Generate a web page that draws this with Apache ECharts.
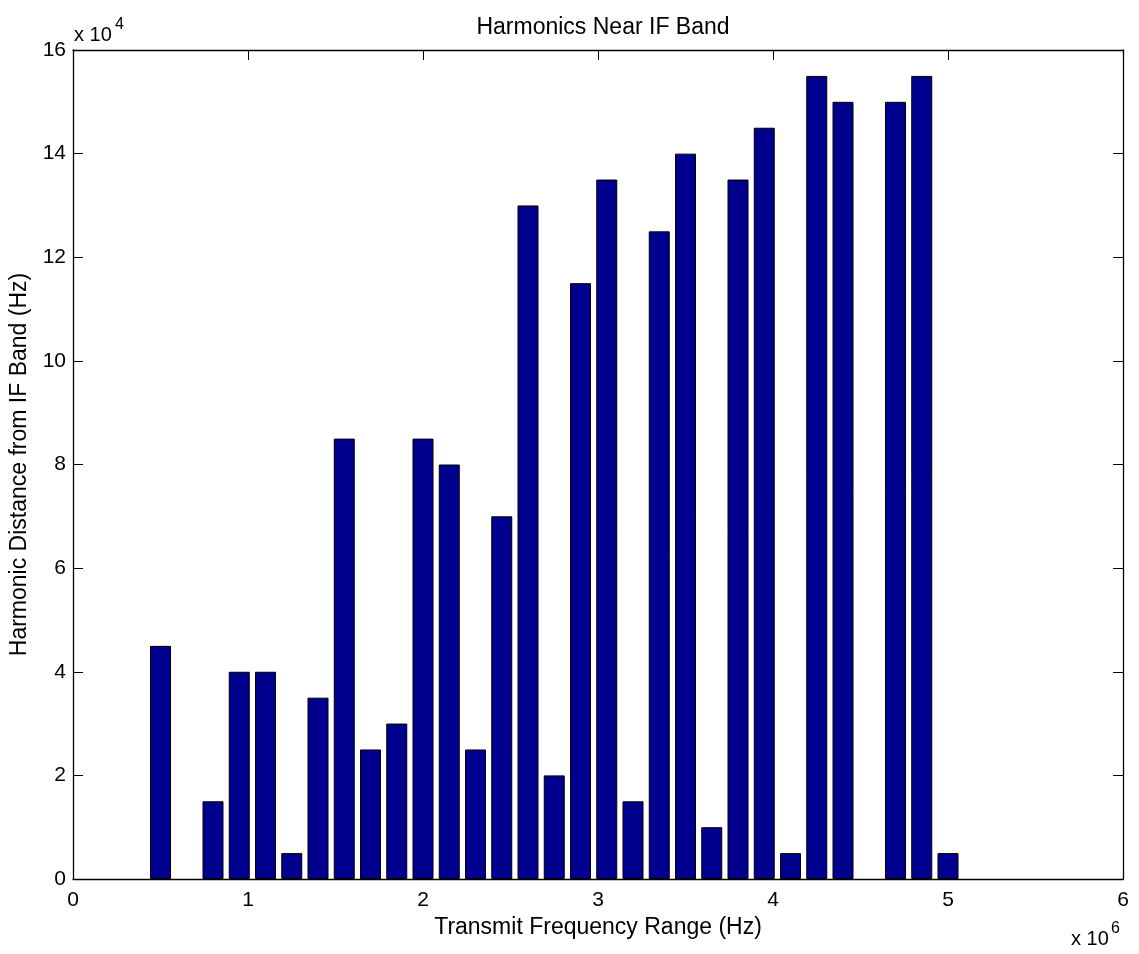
<!DOCTYPE html>
<html>
<head>
<meta charset="utf-8">
<script src="https://cdn.jsdelivr.net/npm/echarts@6/dist/echarts.min.js"></script>
<style>
html,body{margin:0;padding:0;background:#fff;}
#chart{width:1139px;height:954px;}
</style>
</head>
<body>
<div id="chart"></div>
<script>
// Transmit frequency (Hz) of each bar
const freqs = [500000, 650000, 800000, 950000, 1100000, 1250000, 1400000, 1550000, 1700000, 1850000,
  2000000, 2150000, 2300000, 2450000, 2600000, 2750000, 2900000, 3050000, 3200000, 3350000,
  3500000, 3650000, 3800000, 3950000, 4100000, 4250000, 4400000, 4550000, 4700000, 4850000, 5000000];
// Harmonic distance from IF band (Hz)
const distances = [45000, 0, 15000, 40000, 40000, 5000, 35000, 85000, 25000, 30000,
  85000, 80000, 25000, 70000, 130000, 20000, 115000, 135000, 15000, 125000,
  140000, 10000, 135000, 145000, 5000, 155000, 150000, 0, 150000, 155000, 5000];
const xTicks = [0, 1, 2, 3, 4, 5, 6];        // x tick labels (x 10^6)
const yTicks = [0, 2, 4, 6, 8, 10, 12, 14, 16]; // y tick labels (x 10^4)

const FONT = 'Liberation Sans, Arial, Helvetica, sans-serif';
const FS_TICK = 21;
const FS_NAME = 23;
const W = 1139, H = 954;
const G = {left: 73, top: 50, right: 16, bottom: 75};
const gridW = W - G.left - G.right;
const barPx = gridW * (0.8 * 150000) / 6000000;

const chart = echarts.init(document.getElementById('chart'), null, {renderer: 'canvas'});
function axisCommon() {
  return {
    axisLine: {show: true, onZero: false, lineStyle: {color: '#000', width: 1.3}},
    axisTick: {show: true, inside: true, length: 10, lineStyle: {color: '#000', width: 1}},
    splitLine: {show: false}
  };
}
chart.setOption({
  animation: false,
  backgroundColor: '#fff',
  title: {
    text: 'Harmonics Near IF Band',
    left: G.left + gridW / 2, top: 11, textAlign: 'center',
    textStyle: {fontFamily: FONT, fontSize: FS_NAME, fontWeight: 'normal', color: '#000'}
  },
  grid: G,
  xAxis: [
    Object.assign({
      type: 'value', min: 0, max: 6000000, interval: 1000000, position: 'bottom',
      axisLabel: {fontFamily: FONT, fontSize: FS_TICK, color: '#000', margin: 11,
        formatter: v => String(xTicks[Math.round(v / 1000000)])},
      name: 'Transmit Frequency Range (Hz)', nameLocation: 'middle', nameGap: 34,
      nameTextStyle: {fontFamily: FONT, fontSize: FS_NAME, color: '#000'}
    }, axisCommon()),
    Object.assign({
      type: 'value', min: 0, max: 6000000, interval: 1000000, position: 'top',
      axisLabel: {show: false}
    }, axisCommon())
  ],
  yAxis: [
    Object.assign({
      type: 'value', min: 0, max: 160000, interval: 20000, position: 'left',
      axisLabel: {fontFamily: FONT, fontSize: FS_TICK, color: '#000', margin: 7, padding: [4, 0, 0, 0],
        formatter: v => String(yTicks[Math.round(v / 20000)])},
      name: 'Harmonic Distance from IF Band (Hz)', nameLocation: 'middle', nameGap: 42,
      nameTextStyle: {fontFamily: FONT, fontSize: FS_NAME, color: '#000'}
    }, axisCommon()),
    Object.assign({
      type: 'value', min: 0, max: 160000, interval: 20000, position: 'right',
      axisLabel: {show: false}
    }, axisCommon())
  ],
  graphic: [
    {type: 'text', x: 74, y: 35, style: {text: 'x 10', font: '20px ' + FONT, fill: '#000', verticalAlign: 'middle'}},
    {type: 'text', x: 115, y: 25, style: {text: '4', font: '16px ' + FONT, fill: '#000', verticalAlign: 'middle'}},
    {type: 'text', x: 1071, y: 939, style: {text: 'x 10', font: '20px ' + FONT, fill: '#000', verticalAlign: 'middle'}},
    {type: 'text', x: 1111, y: 929, style: {text: '6', font: '16px ' + FONT, fill: '#000', verticalAlign: 'middle'}}
  ],
  series: [{
    type: 'bar',
    xAxisIndex: 0, yAxisIndex: 0,
    barWidth: barPx,
    data: freqs.map((f, i) => ({
      value: [f, distances[i]],
      itemStyle: distances[i] === 0 ? {borderWidth: 0} : undefined
    })),
    itemStyle: {color: '#00008F', borderColor: '#000', borderWidth: 1}
  }]
});
</script>
</body>
</html>
